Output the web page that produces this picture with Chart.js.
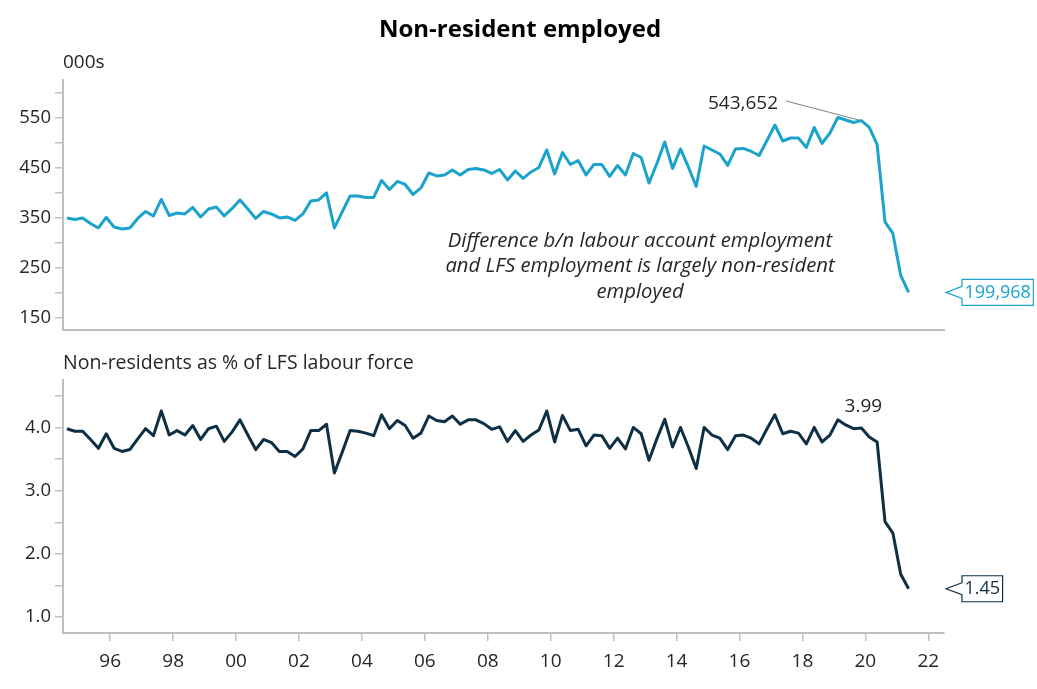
<!DOCTYPE html>
<html>
<head>
<meta charset="utf-8">
<title>Non-resident employed</title>
<script src="https://cdn.jsdelivr.net/npm/chart.js@4.4.1/dist/chart.umd.min.js"></script>
<style>
  body { margin: 0; background: #fff; }
  #wrap { position: relative; width: 1037px; height: 689px; }
  canvas { position: absolute; left: 0; }
  #topChart { top: 0; }
  #bottomChart { top: 345px; }
</style>
</head>
<body>
<div id="wrap">
  <canvas id="topChart" width="1037" height="345" style="width:1037px;height:345px"></canvas>
  <canvas id="bottomChart" width="1037" height="344" style="width:1037px;height:344px"></canvas>
</div>
<script>
// quarterly, 1994 Q3 to 2021 Q2
const firstYear = 1994;
const firstQuarter = 3;

// non-resident employed, 000s
const employed = [
  349, 346, 349, 338, 329, 350, 331, 327, 329, 348,
  362, 353, 386, 354, 359, 357, 370, 351, 367, 371,
  353, 368, 385, 367, 348, 362, 357, 349, 351, 344,
  357, 383, 385, 399, 329, 361, 393, 393, 390, 390,
  424, 406, 422, 416, 396, 409, 439, 433, 435, 445,
  435, 446, 448, 445, 438, 446, 425, 443, 428, 441,
  450, 485, 437, 480, 456, 464, 435, 456, 456, 432,
  454, 435, 478, 470, 419, 458, 501, 448, 487, 451,
  412, 493, 485, 477, 454, 487, 488, 482, 474, 504,
  535, 503, 509, 509, 490, 530, 498, 519, 550, 545,
  540, 543.652, 530, 496, 341, 318, 234, 199.968
];

// non-residents as % of LFS labour force
const sharePct = [
  3.98, 3.94, 3.94, 3.81, 3.67, 3.90, 3.67, 3.62, 3.65, 3.82,
  3.98, 3.87, 4.26, 3.88, 3.95, 3.88, 4.03, 3.81, 3.98, 4.02,
  3.78, 3.93, 4.12, 3.88, 3.65, 3.81, 3.76, 3.62, 3.62, 3.54,
  3.66, 3.95, 3.95, 4.05, 3.28, 3.61, 3.95, 3.94, 3.91, 3.87,
  4.20, 3.98, 4.11, 4.03, 3.83, 3.91, 4.18, 4.11, 4.09, 4.18,
  4.05, 4.12, 4.12, 4.06, 3.97, 4.01, 3.78, 3.95, 3.78, 3.88,
  3.96, 4.26, 3.77, 4.19, 3.95, 3.97, 3.71, 3.88, 3.87, 3.67,
  3.83, 3.66, 4.00, 3.90, 3.48, 3.82, 4.13, 3.69, 4.00, 3.69,
  3.35, 4.00, 3.88, 3.83, 3.65, 3.87, 3.88, 3.83, 3.74, 3.98,
  4.20, 3.90, 3.94, 3.91, 3.74, 4.00, 3.77, 3.88, 4.12, 4.04,
  3.98, 3.99, 3.85, 3.77, 2.51, 2.33, 1.68, 1.45
];

const xTickYears = [1996, 1998, 2000, 2002, 2004, 2006, 2008, 2010, 2012, 2014, 2016, 2018, 2020, 2022];
const topTicks = [150, 200, 250, 300, 350, 400, 450, 500, 550, 600];
const topTickLabels = [150, 250, 350, 450, 550];
const bottomTicks = [1, 1.5, 2, 2.5, 3, 3.5, 4, 4.5];
const bottomTickLabels = [1, 2, 3, 4];
const peakQuarter = "2019Q4";

// quarter labels, and their position in years (mid-quarter)
const quarters = employed.map((v, i) => {
  const n = firstQuarter - 1 + i;
  return (firstYear + Math.floor(n / 4)) + "Q" + (n % 4 + 1);
});
function quarterPos(label) {
  return Number(label.slice(0, 4)) + (Number(label.slice(5)) - 0.5) / 4;
}
const xs = quarters.map(quarterPos);
const peakIdx = quarters.indexOf(peakQuarter);

const tealColor = "#1BA3CB";
const navyColor = "#0E2F44";
const textColor = "#262626";
const axisColor = "#BFBFBF";
const fontFamily = "'Open Sans', 'Noto Sans', sans-serif";

function drawCallout(ctx, tipX, yPix, text, color) {
  ctx.font = "18px " + fontFamily;
  const left = tipX + 16;
  const w = ctx.measureText(text).width + 5;
  const h = 26;
  ctx.beginPath();
  ctx.moveTo(left, yPix - 6);
  ctx.lineTo(tipX, yPix);
  ctx.lineTo(left, yPix + 6);
  ctx.lineTo(left, yPix + h / 2);
  ctx.lineTo(left + w, yPix + h / 2);
  ctx.lineTo(left + w, yPix - h / 2);
  ctx.lineTo(left, yPix - h / 2);
  ctx.closePath();
  ctx.fillStyle = "#fff";
  ctx.fill();
  ctx.strokeStyle = color;
  ctx.lineWidth = 1.2;
  ctx.stroke();
  ctx.fillStyle = color;
  ctx.textAlign = "left";
  ctx.textBaseline = "middle";
  ctx.fillText(text, left + 2.5, yPix);
}

const topNotes = {
  id: "topNotes",
  afterDraw(chart) {
    const { ctx, chartArea } = chart;
    const x = chart.scales.x, y = chart.scales.y;
    ctx.save();
    ctx.fillStyle = "#000";
    ctx.textAlign = "center";
    ctx.textBaseline = "middle";
    ctx.font = "bold 24px " + fontFamily;
    ctx.fillText("Non-resident employed", 520, 30);

    ctx.fillStyle = textColor;
    ctx.font = "19px " + fontFamily;
    ctx.textAlign = "left";
    ctx.fillText("000s", chartArea.left, 63);

    // peak label with leader line
    const px = x.getPixelForValue(xs[peakIdx]);
    const py = y.getPixelForValue(employed[peakIdx]);
    ctx.textAlign = "right";
    ctx.fillText("543,652", 778, 104);
    ctx.beginPath();
    ctx.moveTo(786, 101);
    ctx.lineTo(px, py);
    ctx.strokeStyle = "#808080";
    ctx.lineWidth = 1;
    ctx.stroke();

    ctx.font = "italic 20.3px " + fontFamily;
    ctx.textAlign = "center";
    ctx.fillText("Difference b/n labour account employment", 640, 241);
    ctx.fillText("and LFS employment is largely non-resident", 640, 266);
    ctx.fillText("employed", 640, 292);

    const last = employed.length - 1;
    drawCallout(ctx, chartArea.right + 2, y.getPixelForValue(employed[last]), "199,968", tealColor);
    ctx.restore();
  }
};

const bottomNotes = {
  id: "bottomNotes",
  afterDraw(chart) {
    const { ctx, chartArea } = chart;
    const x = chart.scales.x, y = chart.scales.y;
    ctx.save();
    ctx.fillStyle = textColor;
    ctx.font = "19.5px " + fontFamily;
    ctx.textAlign = "left";
    ctx.textBaseline = "middle";
    ctx.fillText("Non-residents as % of LFS labour force", chartArea.left, 18);

    ctx.font = "19px " + fontFamily;
    ctx.textAlign = "center";
    ctx.fillText(sharePct[peakIdx].toFixed(2), x.getPixelForValue(xs[peakIdx]) + 2,
      y.getPixelForValue(sharePct[peakIdx]) - 21);

    const last = sharePct.length - 1;
    drawCallout(ctx, chartArea.right + 2, y.getPixelForValue(sharePct[last]), sharePct[last].toFixed(2), navyColor);
    ctx.restore();
  }
};

function yAxis(min, max, ticks, labels, fmt) {
  return {
    type: "linear",
    min: min,
    max: max,
    afterBuildTicks: (scale) => { scale.ticks = ticks.map((v) => ({ value: v })); },
    afterFit: (scale) => { scale.width = 63; },
    grid: { drawOnChartArea: false, drawTicks: true, tickLength: 8, color: axisColor, lineWidth: 1.5 },
    border: { display: true, color: axisColor, width: 2 },
    ticks: {
      padding: 4,
      color: textColor,
      font: { size: 18.5, family: fontFamily },
      callback: (v) => (labels.includes(v) ? fmt(v) : "")
    }
  };
}

function baseOptions(padTop, yScale, xScale) {
  return {
    responsive: false,
    animation: false,
    layout: { padding: { top: padTop, right: 93, left: 0, bottom: 0 } },
    plugins: { legend: { display: false }, tooltip: { enabled: false } },
    elements: { point: { radius: 0 }, line: { tension: 0, borderWidth: 3, borderJoinStyle: "round" } },
    scales: { x: xScale, y: yScale }
  };
}

new Chart(document.getElementById("topChart"), {
  type: "line",
  data: {
    datasets: [{
      data: xs.map((v, i) => ({ x: v, y: employed[i] })),
      borderColor: tealColor
    }]
  },
  options: baseOptions(80,
    yAxis(125, 625, topTicks, topTickLabels, (v) => String(v)),
    {
      type: "linear",
      min: 1994.5,
      max: 2022.5,
      afterFit: (scale) => { scale.height = 7; },
      grid: { display: true, drawOnChartArea: false, drawTicks: false },
      border: { display: true, color: axisColor, width: 2 },
      ticks: { display: false }
    }),
  plugins: [topNotes]
});

new Chart(document.getElementById("bottomChart"), {
  type: "line",
  data: {
    datasets: [{
      data: xs.map((v, i) => ({ x: v, y: sharePct[i] })),
      borderColor: navyColor
    }]
  },
  options: baseOptions(35,
    yAxis(0.75, 4.75, bottomTicks, bottomTickLabels, (v) => v.toFixed(1)),
    {
      type: "linear",
      min: 1994.5,
      max: 2022.5,
      afterBuildTicks: (scale) => { scale.ticks = xTickYears.map((v) => ({ value: v })); },
      afterFit: (scale) => { scale.height = 56; },
      grid: { drawOnChartArea: false, drawTicks: true, tickLength: 8, color: axisColor, lineWidth: 1.5 },
      border: { display: true, color: axisColor, width: 2 },
      ticks: {
        padding: 9,
        maxRotation: 0,
        color: textColor,
        font: { size: 19, family: fontFamily },
        callback: (v) => String(v % 100).padStart(2, "0")
      }
    }),
  plugins: [bottomNotes]
});
</script>
</body>
</html>
